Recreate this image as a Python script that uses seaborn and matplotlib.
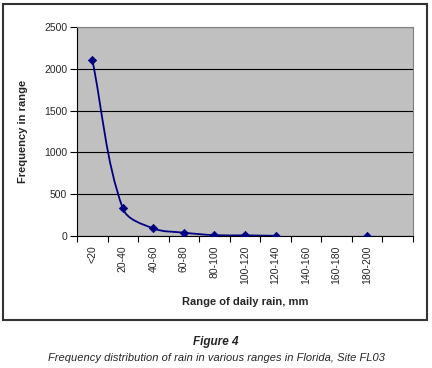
import numpy as np
import pandas as pd
import seaborn as sns
import matplotlib.pyplot as plt
from matplotlib.path import Path
from matplotlib.patches import PathPatch, Rectangle

# data
ranges = ["<20", "20-40", "40-60", "60-80", "80-100", "100-120",
          "120-140", "140-160", "160-180", "180-200", ""]
freq = [2110, 330, 90, 40, 10, 8, 2, np.nan, np.nan, 2, np.nan]

df = pd.DataFrame({"pos": np.arange(len(ranges)), "range": ranges, "freq": freq})

sns.set_theme(style="white")
plt.rcParams["font.family"] = ["Liberation Sans", "DejaVu Sans"]

fig = plt.figure(figsize=(4.32, 3.68), dpi=100)
ax = fig.add_axes([77 / 432, 1 - 236 / 368, 336 / 432, 209 / 368])
ax.set_facecolor("#c0c0c0")
ax.set_xlim(-0.5, len(ranges) - 0.5)
ax.set_ylim(0, 2500)

navy = "#000080"


def smooth_path(x, y):
    # excel-like smoothed line: bezier whose handles scale with the
    # neighbouring segment lengths (worked out in screen space)
    pts = ax.transData.transform(np.column_stack([x, y]))
    n = len(pts)
    verts = [pts[0]]
    codes = [Path.MOVETO]
    for i in range(n - 1):
        p0, p1 = pts[max(i - 1, 0)], pts[i]
        p2, p3 = pts[i + 1], pts[min(i + 2, n - 1)]
        seg = np.linalg.norm(p2 - p1)
        d1 = p2 - p0
        d2 = p3 - p1
        d1 = d1 / np.linalg.norm(d1)
        d2 = d2 / np.linalg.norm(d2)
        verts += [p1 + d1 * seg / 3, p2 - d2 * seg / 3, p2]
        codes += [Path.CURVE4] * 3
    verts = ax.transData.inverted().transform(np.array(verts))
    return Path(verts, codes)


# draw each run of consecutive values as its own smoothed line
run = df.freq.notna()
grp = (run != run.shift()).cumsum()
for _, part in df[run].groupby(grp[run]):
    if len(part) > 1:
        ax.add_patch(PathPatch(smooth_path(part.pos.to_numpy(), part.freq.to_numpy()),
                               facecolor="none", edgecolor=navy, lw=1.3, zorder=3))

sns.scatterplot(data=df, x="pos", y="freq", marker="D", s=18, color=navy,
                edgecolor=navy, linewidth=0.5, zorder=4, ax=ax)

ax.set_xlim(-0.5, len(ranges) - 0.5)
ax.set_ylim(0, 2500)
ax.set_yticks(np.arange(0, 2501, 500))
ax.yaxis.grid(True, color="black", lw=0.8)
ax.set_axisbelow(True)

# category axis: ticks between categories, labels at centres
ax.set_xticks(np.arange(-0.5, len(ranges), 1.0))
ax.set_xticklabels([])
ax.set_xticks(df.pos, minor=True)
ax.set_xticklabels(ranges, minor=True, rotation=90, fontsize=7.5)
ax.tick_params(axis="x", which="major", direction="out", length=4, width=0.8,
               color="black", bottom=True)
ax.tick_params(axis="x", which="minor", length=0, pad=7)
ax.tick_params(axis="y", direction="out", length=5, width=0.8, color="black",
               left=True, labelsize=7.5, pad=2)

for side in ["top", "right"]:
    ax.spines[side].set_color("#808080")
for side in ["left", "bottom"]:
    ax.spines[side].set_color("black")
for sp in ax.spines.values():
    sp.set_linewidth(0.8)

ax.set_xlabel("Range of daily rain, mm", fontsize=8, fontweight="bold")
ax.set_ylabel("Frequency in range", fontsize=8, fontweight="bold")
ax.xaxis.set_label_coords(0.5, -(297 - 236) / 209)
ax.yaxis.set_label_coords((28 - 77) / 336, 0.5)

# chart frame
fig.patches.append(Rectangle((3 / 432, 1 - 320 / 368), 424 / 432, 316 / 368,
                             transform=fig.transFigure, fill=False,
                             edgecolor="#333333", lw=1.5))

fig.text(0.5, 1 - 342 / 368, "Figure 4", ha="center", va="center",
         fontsize=8.5, fontweight="bold", style="italic")
fig.text(0.5, 1 - 358 / 368,
         "Frequency distribution of rain in various ranges in Florida, Site FL03",
         ha="center", va="center", fontsize=8, style="italic")

fig.savefig("out.png", dpi=100)
